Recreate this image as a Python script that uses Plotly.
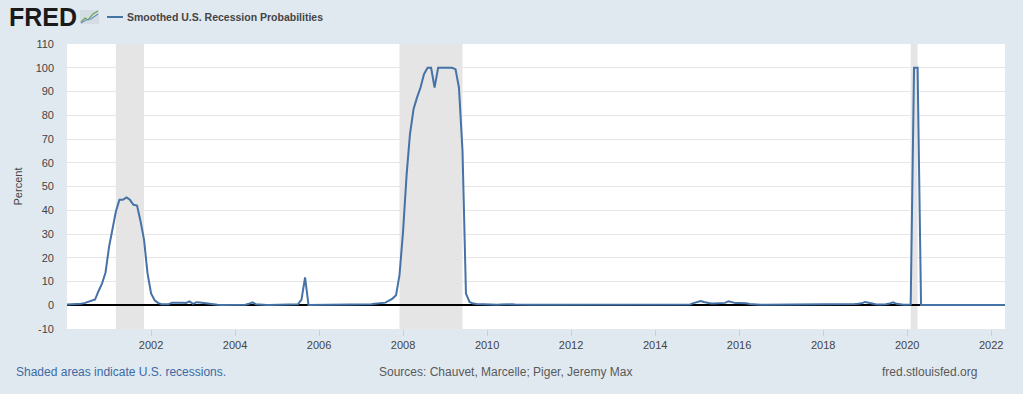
import pandas as pd
import plotly.graph_objects as go

# ---------------- data ----------------
series_name = "Smoothed U.S. Recession Probabilities"
start_month = "2000-01-01"

p2000 = [0.3, 0.3, 0.3, 0.4, 0.6, 0.9, 1.3, 1.8, 2.4, 5.9, 9.2, 13.8]
p2001 = [24.7, 32.4, 39.5, 44.4, 44.4, 45.4, 44.4, 42.3, 42.0, 35.5, 27.5, 13.5]
p2002 = [5.0, 2.1, 1.0, 0.4, 0.3, 0.4, 1.1, 1.2, 1.2, 1.1, 1.0, 1.6]
p2003 = [0.6, 1.3, 1.2, 1.0, 0.6, 0.3, 0.2, 0.2, 0.1, 0.1, 0.1, 0.1]
p2004 = [0.1, 0.1, 0.1, 0.2, 0.6, 1.2, 0.4, 0.2, 0.1, 0.1, 0.1, 0.1]
p2005 = [0.1, 0.1, 0.1, 0.1, 0.1, 0.2, 0.4, 2.4, 11.7, 0.1, 0.1, 0.1]
p2006 = [0.1, 0.1, 0.1, 0.1, 0.2, 0.3, 0.3, 0.2, 0.2, 0.2, 0.1, 0.2]
p2007 = [0.3, 0.3, 0.3, 0.4, 0.6, 0.8, 1.0, 1.1, 2.0, 2.8, 4.2, 12.7]
p2008 = [31.0, 55.0, 72.0, 82.5, 87.4, 91.7, 97.3, 100.0, 100.0, 91.7, 100.0, 100.0]
p2009 = [100.0, 100.0, 100.0, 99.4, 91.7, 65.0, 4.9, 1.4, 0.7, 0.5, 0.4, 0.3]
p2010 = [0.3, 0.2, 0.2, 0.2, 0.3, 0.4, 0.5, 0.4, 0.3, 0.2, 0.2, 0.2]
p2011 = [0.2, 0.2, 0.2, 0.3, 0.3, 0.3, 0.2, 0.3, 0.3, 0.2, 0.2, 0.1]
p2012 = [0.1, 0.1, 0.1, 0.2, 0.3, 0.3, 0.4, 0.3, 0.2, 0.2, 0.2, 0.2]
p2013 = [0.2, 0.2, 0.1, 0.2, 0.2, 0.2, 0.1, 0.1, 0.1, 0.1, 0.1, 0.1]
p2014 = [0.2, 0.2, 0.2, 0.2, 0.1, 0.1, 0.1, 0.1, 0.1, 0.2, 0.3, 0.9]
p2015 = [1.5, 1.8, 1.4, 0.9, 0.7, 0.7, 0.8, 0.8, 1.0, 1.7, 1.2, 0.9]
p2016 = [0.9, 0.9, 0.8, 0.5, 0.3, 0.3, 0.2, 0.2, 0.2, 0.2, 0.2, 0.2]
p2017 = [0.2, 0.2, 0.2, 0.2, 0.2, 0.2, 0.2, 0.2, 0.3, 0.2, 0.2, 0.2]
p2018 = [0.2, 0.2, 0.2, 0.2, 0.2, 0.2, 0.3, 0.4, 0.5, 0.5, 0.6, 0.8]
p2019 = [1.4, 1.0, 0.6, 0.4, 0.3, 0.3, 0.4, 0.7, 1.2, 0.6, 0.3, 0.2]
p2020 = [0.2, 0.3, 100.0, 100.0, 0.1, 0.1, 0.1, 0.1, 0.1, 0.4, 0.3, 0.1]
p2021 = [0.1, 0.1, 0.2, 0.4, 0.2, 0.1, 0.1, 0.3, 0.3, 0.1, 0.1, 0.1]
p2022 = [0.1, 0.1, 0.1, 0.1, 0.1]

rec_start = ["2001-03-01", "2007-12-01", "2020-02-01"]
rec_end = ["2001-11-01", "2009-06-01", "2020-04-01"]

x_tick_years = [2002, 2004, 2006, 2008, 2010, 2012, 2014, 2016, 2018, 2020, 2022]
y_ticks = [-10, 0, 10, 20, 30, 40, 50, 60, 70, 80, 90, 100, 110]

# ---------------- build ----------------
values = (p2000 + p2001 + p2002 + p2003 + p2004 + p2005 + p2006 + p2007 + p2008
          + p2009 + p2010 + p2011 + p2012 + p2013 + p2014 + p2015 + p2016
          + p2017 + p2018 + p2019 + p2020 + p2021 + p2022)
dates = pd.date_range(start_month, periods=len(values), freq="MS")

W, H = 1023, 394
ML, MR, MT, MB = 67, 18, 44, 65
PW, PH = W - ML - MR, H - MT - MB

def px(X):
    return (X - ML) / PW

def py(Y):
    return (H - MB - Y) / PH

LINE = "#4572a7"
BG = "#e1e9f0"
FONT = "Liberation Sans, Arial, Helvetica, sans-serif"

fig = go.Figure()
fig.add_trace(go.Scatter(x=dates, y=values, mode="lines", name=series_name,
                         line=dict(color=LINE, width=2), showlegend=False))

shapes = []
for s, e in zip(rec_start, rec_end):
    shapes.append(dict(type="rect", xref="x", yref="paper", x0=s, x1=e, y0=0, y1=1,
                       fillcolor="#e5e5e5", line=dict(width=0), layer="below"))

# legend swatch
shapes.append(dict(type="line", xref="paper", yref="paper",
                   x0=px(107), x1=px(123), y0=py(17), y1=py(17),
                   line=dict(color=LINE, width=2)))
# small FRED logo icon
shapes.append(dict(type="rect", xref="paper", yref="paper",
                   x0=px(80), x1=px(99), y0=py(24), y1=py(10),
                   fillcolor="#d4dce4", line=dict(width=0)))
shapes.append(dict(type="path", xref="paper", yref="paper",
                   path="M {} {} L {} {} L {} {} L {} {} L {} {}".format(
                       px(81), py(22), px(85), py(18), px(88), py(20),
                       px(93), py(14), px(98), py(11)),
                   line=dict(color="#6aa84f", width=1.2)))
shapes.append(dict(type="path", xref="paper", yref="paper",
                   path="M {} {} L {} {} L {} {} L {} {}".format(
                       px(81), py(23), px(86), py(20), px(91), py(19),
                       px(98), py(14)),
                   line=dict(color="#6d8fbf", width=1.2)))

annotations = [
    dict(text="<b>FRED</b>", xref="paper", yref="paper", x=px(7), y=py(17),
         xanchor="left", yanchor="middle", showarrow=False,
         font=dict(family=FONT, size=25, color="#1a1a1a")),
    dict(text="<b>" + series_name + "</b>", xref="paper", yref="paper",
         x=px(125), y=py(17), xanchor="left", yanchor="middle", showarrow=False,
         font=dict(family=FONT, size=10.5, color="#444444")),
    dict(text="Shaded areas indicate U.S. recessions.", xref="paper", yref="paper",
         x=px(14), y=py(372), xanchor="left", yanchor="middle", showarrow=False,
         font=dict(family=FONT, size=12, color="#3b6aa5")),
    dict(text="Sources: Chauvet, Marcelle; Piger, Jeremy Max", xref="paper",
         yref="paper", x=px(377), y=py(372), xanchor="left", yanchor="middle",
         showarrow=False, font=dict(family=FONT, size=12, color="#595959")),
    dict(text="fred.stlouisfed.org", xref="paper", yref="paper", x=px(979),
         y=py(372), xanchor="right", yanchor="middle", showarrow=False,
         font=dict(family=FONT, size=12, color="#595959")),
]

fig.update_layout(
    width=W, height=H,
    margin=dict(l=ML, r=MR, t=MT, b=MB, autoexpand=False),
    paper_bgcolor=BG, plot_bgcolor="white",
    font=dict(family=FONT, size=11, color="#444444"),
    shapes=shapes, annotations=annotations,
    hovermode="x",
    xaxis=dict(type="date", range=[start_month, dates[-1]], automargin=False,
               tickvals=[f"{y}-01-01" for y in x_tick_years],
               ticktext=[str(y) for y in x_tick_years],
               showgrid=False, zeroline=False, showline=False,
               ticks="outside", ticklen=6, tickcolor="#c5d1dd", tickwidth=1,
               tickfont=dict(size=11, color="#444444")),
    yaxis=dict(range=[-10, 110], tickvals=y_ticks, automargin=False,
               ticktext=[str(v) for v in y_ticks],
               showgrid=True, gridcolor="#e6e6e6", gridwidth=1,
               zeroline=True, zerolinecolor="#000000", zerolinewidth=2,
               showline=False, ticks="", ticklabelstandoff=12,
               tickfont=dict(size=11, color="#444444"),
               title=dict(text="Percent", standoff=10,
                          font=dict(size=11, color="#444444"))),
)

fig.write_html(
    "out.html",
    config={"displayModeBar": False},
    post_script="document.body.style.margin='0';"
                "document.body.style.background='" + BG + "';",
)
